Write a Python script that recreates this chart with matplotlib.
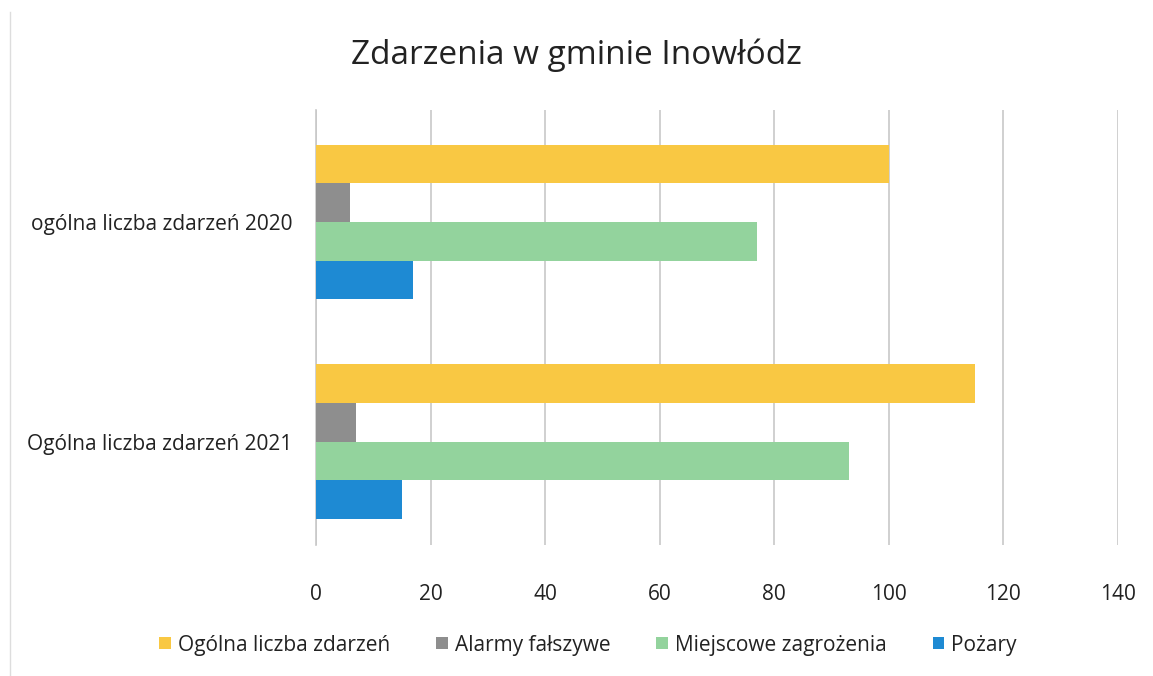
import numpy as np
import matplotlib.pyplot as plt

# Data
categories = ["ogólna liczba zdarzeń 2020", "Ogólna liczba zdarzeń 2021"]
series_names = ["Ogólna liczba zdarzeń", "Alarmy fałszywe", "Miejscowe zagrożenia", "Pożary"]
ogolna = [100, 115]
alarmy = [6, 7]
miejscowe = [77, 93]
pozary = [17, 15]
colors = ["#F9C843", "#8E8E8E", "#93D39D", "#1E8AD3"]
xticks = [0, 20, 40, 60, 80, 100, 120, 140]

plt.rcParams['font.family'] = ['Open Sans', 'DejaVu Sans']

fig = plt.figure(figsize=(11.53, 6.76), dpi=100)
ax = fig.add_axes([316 / 1153, 1 - 545 / 676, (1118 - 316) / 1153, (545 - 110) / 676])

y = np.arange(len(categories))
h = 0.176
values = [ogolna, alarmy, miejscowe, pozary]
for i, (name, vals, col) in enumerate(zip(series_names, values, colors)):
    offs = (i - 1.5) * h
    ax.barh(y + offs, vals, height=h, color=col, label=name, zorder=3)

ax.set_xlim(0, 140)
ax.set_ylim(1.47, -0.51)
ax.set_xticks(xticks)
ax.set_yticks(y)
ax.set_yticklabels(categories, fontsize=15, color='#222222')
ax.tick_params(axis='x', labelsize=15, labelcolor='#222222', length=0, pad=28)
ax.tick_params(axis='y', length=0, pad=17)
ax.grid(axis='x', color='#C8C8C8', linewidth=1.2, zorder=0)
for s in ['top', 'right', 'bottom']:
    ax.spines[s].set_visible(False)
ax.spines['left'].set_color('#C8C8C8')
ax.spines['left'].set_linewidth(1.2)

fig.text(0.5, 1 - 55 / 676, "Zdarzenia w gminie Inowłódz", ha='center', va='center',
         fontsize=24, color='#222222')

fig.legend(loc='center', bbox_to_anchor=(0.51, 1 - 645 / 676), ncol=4, frameon=False,
           fontsize=15, handlelength=0.55, handleheight=0.55, columnspacing=2.2,
           handletextpad=0.35, labelcolor='#222222')

# faint border of the scanned chart frame
fig.add_artist(plt.Line2D([10 / 1153, 10 / 1153], [0, 1 - 12 / 676], color='#DDDDDD', lw=1))

fig.savefig("out.png", dpi=100)
